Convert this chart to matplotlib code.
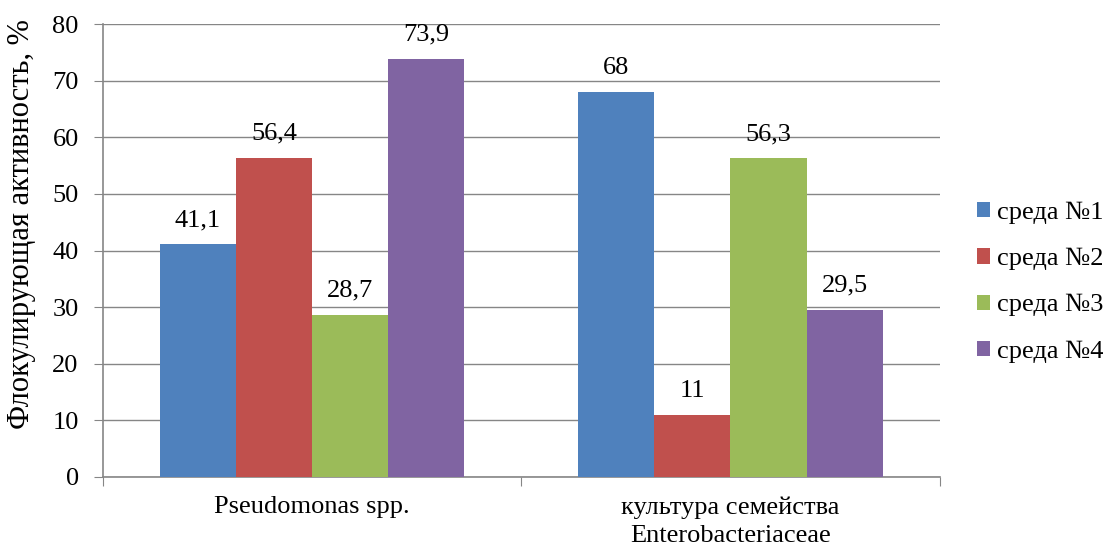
import numpy as np
import matplotlib.pyplot as plt

plt.rcParams['font.family'] = ['Liberation Serif', 'DejaVu Serif']

groups = ['Pseudomonas spp.', 'культура семейства\nEnterobacteriaceae']
series = ['среда №1', 'среда №2', 'среда №3', 'среда №4']
values = [
    [41.1, 68],
    [56.4, 11],
    [28.7, 56.3],
    [73.9, 29.5],
]
labels = [
    ['41,1', '68'],
    ['56,4', '11'],
    ['28,7', '56,3'],
    ['73,9', '29,5'],
]
colors = ['#4f81bd', '#c0504d', '#9bbb59', '#8064a2']

fs = 19

fig = plt.figure(figsize=(11.08, 5.47), dpi=100)
ax = fig.add_axes([0.093, 0.128, 0.755, 0.828])

x = np.arange(len(groups))
w = 0.182
for i, (vals, lab, c) in enumerate(zip(values, labels, colors)):
    pos = x + (i - 1.5) * w
    ax.bar(pos, vals, width=w, color=c, label=series[i], zorder=3)
    for p, v, t in zip(pos, vals, lab):
        ax.annotate(t, (p, v), xytext=(0, 13), textcoords='offset points',
                    ha='center', va='baseline', fontsize=fs)

ax.set_xlim(-0.5, 1.5)
ax.set_ylim(0, 80)
ax.set_yticks(range(0, 81, 10))
ax.yaxis.grid(True, color='#868686', linewidth=1, zorder=0)

# category separators as ticks on the x axis
ax.set_xticks([-0.5, 0.5, 1.5])
ax.set_xticklabels([])
ax.set_xticks(x, minor=True)
ax.set_xticklabels(groups, minor=True, fontsize=fs, linespacing=1.35)
ax.tick_params(axis='x', which='minor', length=0, pad=14)
ax.tick_params(axis='x', which='major', length=6.5, color='#868686', direction='out')
ax.tick_params(axis='y', length=6.5, color='#868686', labelsize=fs, pad=11)

for s in ['top', 'right']:
    ax.spines[s].set_visible(False)
for s in ['left', 'bottom']:
    ax.spines[s].set_color('#868686')
    ax.spines[s].set_linewidth(1.2)

ax.set_ylabel('Флокулирующая активность, %', fontsize=22)
ax.yaxis.set_label_coords(-0.08, 0.558)

ax.legend(loc='center left', bbox_to_anchor=(0.882, 0.484),
          bbox_transform=fig.transFigure, frameon=False, borderpad=0,
          borderaxespad=0, fontsize=fs, handlelength=0.5, handleheight=0.5,
          labelspacing=0.9, handletextpad=0.25)

fig.savefig('out.png', dpi=100)
